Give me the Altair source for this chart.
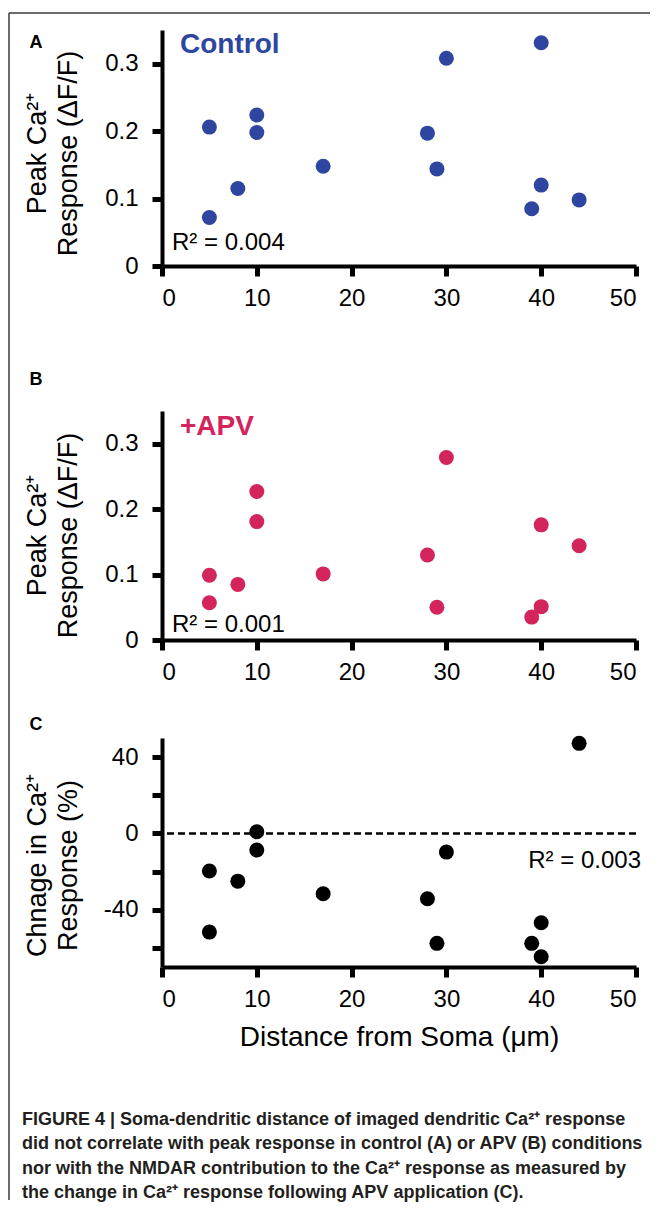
import altair as alt
import pandas as pd

# ---------------- data ----------------
dist_a = [5, 5, 8, 10, 10, 17, 28, 29, 30, 40, 40, 39, 44]
peak_control = [0.206, 0.072, 0.115, 0.224, 0.198, 0.148, 0.197, 0.144, 0.308, 0.331, 0.120, 0.085, 0.098]

dist_b = [5, 5, 8, 10, 10, 17, 28, 29, 30, 40, 40, 39, 44]
peak_apv = [0.099, 0.057, 0.085, 0.227, 0.181, 0.101, 0.130, 0.050, 0.279, 0.176, 0.051, 0.035, 0.144]

dist_c = [5, 5, 8, 10, 10, 17, 28, 29, 30, 39, 40, 40, 44]
change_pct = [-19.7, -51.7, -25.0, 0.9, -8.7, -31.6, -34.2, -57.6, -9.8, -57.6, -46.8, -64.6, 47.2]

x_ticks = [0, 10, 20, 30, 40, 50]
y_ticks_ab = [0, 0.1, 0.2, 0.3]
y_ticks_c = [-60, -40, -20, 0, 20, 40]

r2_labels = ["R\u00b2 = 0.004", "R\u00b2 = 0.001", "R\u00b2 = 0.003"]
panel_letters = ["A", "B", "C"]
condition_labels = ["Control", "+APV"]
y_titles_ab = ["Peak Ca\u00b2\u207a", "Response (\u0394F/F)"]
y_titles_c = ["Chnage in Ca\u00b2\u207a", "Response (%)"]
x_title = "Distance from Soma (\u03bcm)"
caption_lines = [
    "FIGURE 4 | Soma-dendritic distance of imaged dendritic Ca\u00b2\u207a response",
    "did not correlate with peak response in control (A) or APV (B) conditions",
    "nor with the NMDAR contribution to the Ca\u00b2\u207a response as measured by",
    "the change in Ca\u00b2\u207a response following APV application (C).",
]

# ---------------- style ----------------
FONT = "Liberation Sans"
BLUE = "#2E46A0"
PINK = "#D3245C"
W = 474

one = pd.DataFrame({"k": [0]})


def txt(text, x, y, size, weight="normal", color="black", align="left", line_height=None):
    kw = dict(text=text, fontSize=size, fontWeight=weight, color=color,
              align=align, baseline="alphabetic", font=FONT)
    if line_height is not None:
        kw["lineHeight"] = line_height
    return alt.Chart(one).mark_text(**kw).encode(x=alt.value(x), y=alt.value(y))


def x_axis(title=None):
    kw = dict(values=x_ticks, labelFontSize=24, labelPadding=10, tickSize=10)
    if title:
        kw.update(title=title, titleFontSize=28, titleFontWeight="normal",
                  titleX=W / 2, titleY=78, titleBaseline="alphabetic", titleAlign="center")
    else:
        kw.update(title=None)
    return alt.Axis(**kw)


def y_axis(values, title, center, fmt=None, label_expr=None):
    kw = dict(values=values, labelFontSize=24, labelPadding=14, tickSize=10,
              title=title, titleFontSize=27, titleFontWeight="normal",
              titleX=-117, titleY=center, titleAngle=270, titleAlign="center",
              titleBaseline="alphabetic", titleLineHeight=31)
    if fmt:
        kw["format"] = fmt
    if label_expr:
        kw["labelExpr"] = label_expr
    return alt.Axis(**kw)


xscale = alt.Scale(domain=[0, 50], nice=False)
DOT = 225

# ---------------- panel A ----------------
df_a = pd.DataFrame({"distance": dist_a, "value": peak_control})
HA = 236
pts_a = alt.Chart(df_a).mark_circle(size=DOT, opacity=1, color=BLUE).encode(
    x=alt.X("distance:Q", scale=xscale, axis=x_axis()),
    y=alt.Y("value:Q", scale=alt.Scale(domain=[0, 0.35], nice=False),
            axis=y_axis(y_ticks_ab, y_titles_ab, 123, fmt=".1~f")),
)
frame_top = alt.Chart(one).mark_rule(color="#3a3a3a", strokeWidth=1.5).encode(
    x=alt.value(-153), x2=alt.value(488), y=alt.value(-17))
frame_left = alt.Chart(one).mark_rule(color="#3a3a3a", strokeWidth=1.5).encode(
    x=alt.value(-153), y=alt.value(-17), y2=alt.value(1170))
panel_a = alt.layer(
    pts_a,
    txt(condition_labels[0], 18, 23, 28, "bold", BLUE),
    txt(r2_labels[0], 10, 220, 24),
    txt(panel_letters[0], -126, 18, 18, "bold", align="center"),
    frame_top, frame_left,
).properties(width=W, height=HA)

# ---------------- panel B ----------------
df_b = pd.DataFrame({"distance": dist_b, "value": peak_apv})
HB = 229
pts_b = alt.Chart(df_b).mark_circle(size=DOT, opacity=1, color=PINK).encode(
    x=alt.X("distance:Q", scale=xscale, axis=x_axis()),
    y=alt.Y("value:Q", scale=alt.Scale(domain=[0, 0.35], nice=False),
            axis=y_axis(y_ticks_ab, y_titles_ab, 124, fmt=".1~f")),
)
panel_b = alt.layer(
    pts_b,
    txt(condition_labels[1], 18, 24, 28, "bold", PINK),
    txt(r2_labels[1], 10, 221, 24),
    txt(panel_letters[1], -126, -26, 18, "bold", align="center"),
).properties(width=W, height=HB)

# ---------------- panel C ----------------
df_c = pd.DataFrame({"distance": dist_c, "value": change_pct})
HC = 229
pts_c = alt.Chart(df_c).mark_circle(size=DOT, opacity=1, color="black").encode(
    x=alt.X("distance:Q", scale=xscale, axis=x_axis(x_title)),
    y=alt.Y("value:Q", scale=alt.Scale(domain=[-70, 50], nice=False),
            axis=y_axis(y_ticks_c, y_titles_c, 127,
                        label_expr="datum.value % 40 == 0 ? toString(datum.value) : ''")),
)
zero_line = alt.Chart(one).mark_rule(color="black", strokeWidth=2.5, strokeDash=[7, 4]).encode(
    y=alt.datum(0))
panel_c = alt.layer(
    zero_line,
    pts_c,
    txt(r2_labels[2], 479, 130, 24, align="right"),
    txt(panel_letters[2], -126, -8, 18, "bold", align="center"),
    txt(caption_lines, -140, 387, 18, "bold", "#231F20", line_height=24.3),
).properties(width=W, height=HC)


def spacer(h):
    return alt.Chart(one).mark_point(opacity=0).encode(
        x=alt.value(0), y=alt.value(0)).properties(width=W, height=h)


chart = alt.VConcatChart(
    vconcat=[panel_a, spacer(145), panel_b, spacer(98), panel_c],
    spacing=0, bounds="flush",
).properties(
    padding={"left": 0, "top": 4, "right": 0, "bottom": 0}
).configure_view(stroke=None).configure_axis(
    grid=False,
    domainColor="black", domainWidth=4,
    tickColor="black", tickWidth=5,
    labelColor="black", titleColor="black",
    labelFont=FONT, titleFont=FONT,
)

chart.save("out.html", embed_options={"renderer": "svg", "actions": False})
